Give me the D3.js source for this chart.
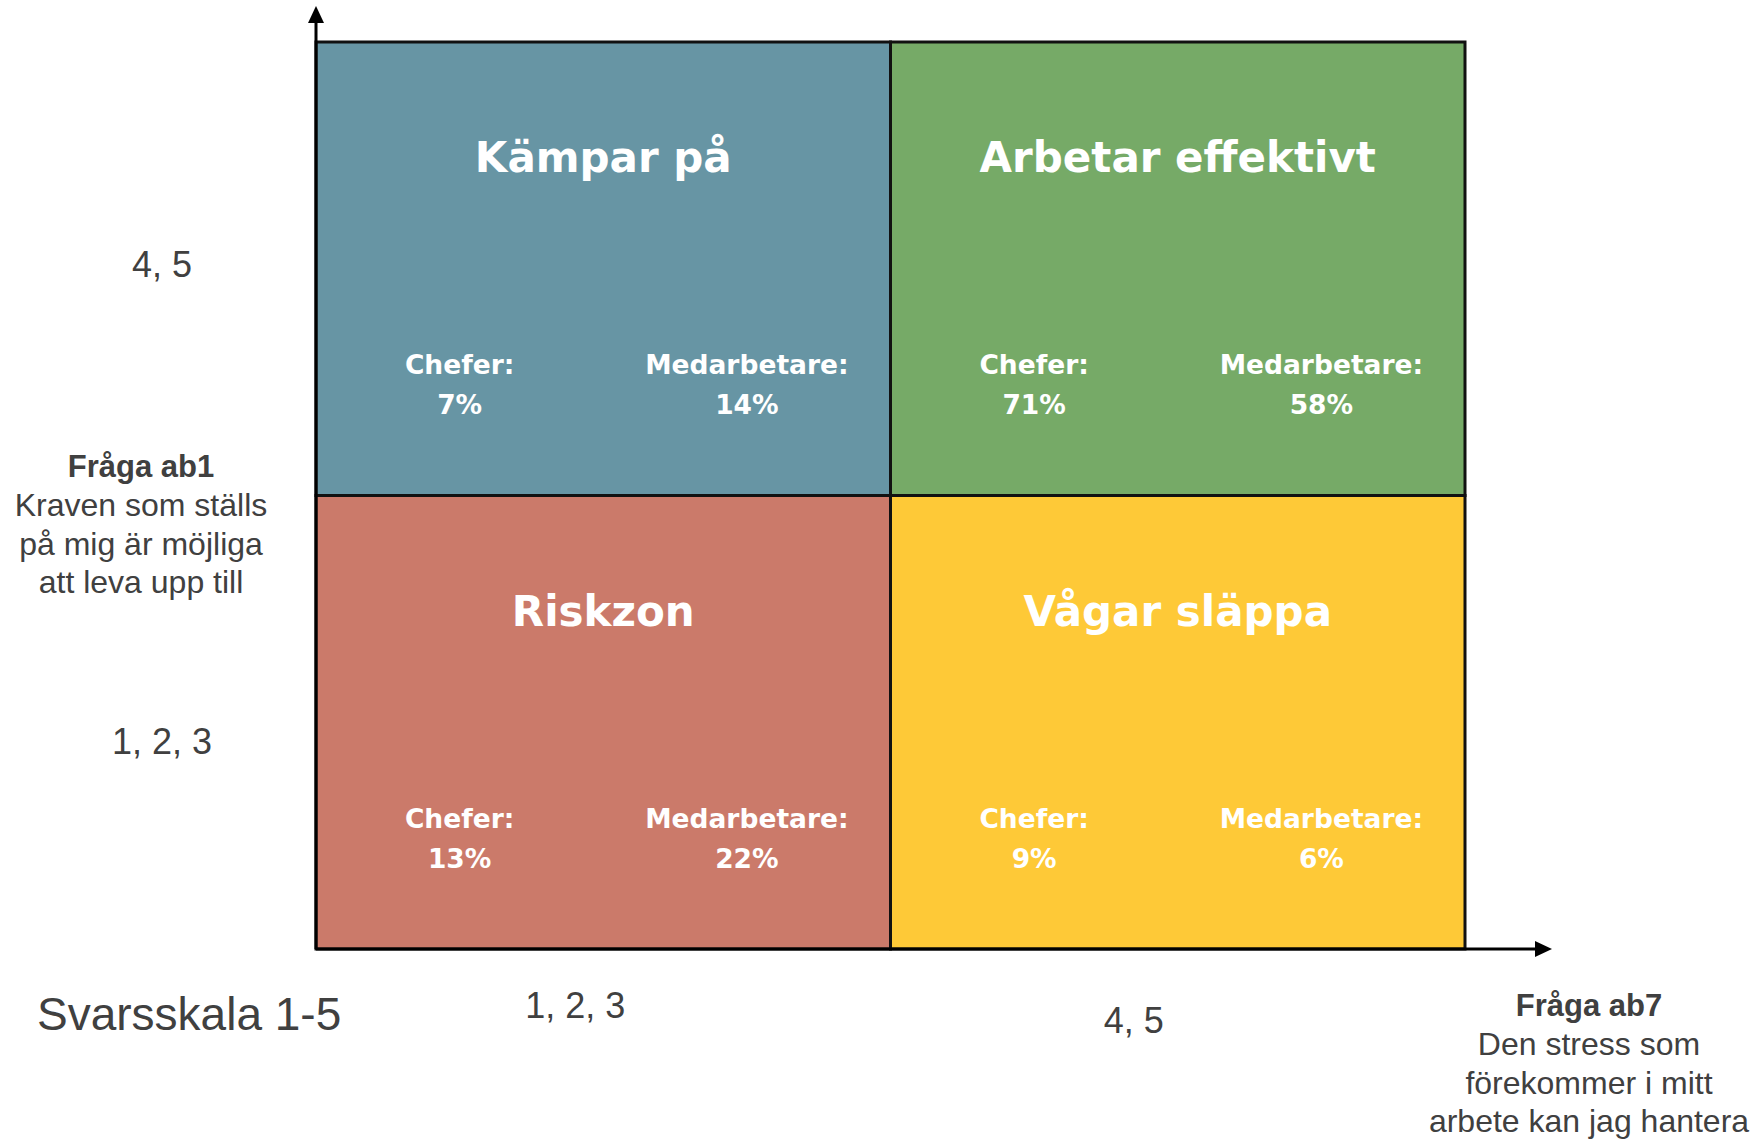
<!DOCTYPE html>
<html>
<head>
<meta charset="utf-8">
<script src="https://cdn.jsdelivr.net/npm/d3@7"></script>
<style>
  html, body { margin: 0; padding: 0; background: #fff; }
  svg { display: block; }
</style>
</head>
<body>
<div id="chart"></div>
<script>
// Axis categories (answer scale groups)
const xCategories = ['1, 2, 3', '4, 5'];
const yCategories = ['4, 5', '1, 2, 3'];

// Quadrants
const quadrantNames = ['Kämpar på', 'Arbetar effektivt', 'Riskzon', 'Vågar släppa'];
const quadrantX = ['1, 2, 3', '4, 5', '1, 2, 3', '4, 5'];
const quadrantY = ['4, 5', '4, 5', '1, 2, 3', '1, 2, 3'];
const cheferPct = [7, 71, 13, 9];
const medarbetarePct = [14, 58, 22, 6];
const quadrantColors = ['#6795a4', '#76aa67', '#cb7a6a', '#fec937'];

// Axis titles
const yTitle = ['Fråga ab1', 'Kraven som ställs', 'på mig är möjliga', 'att leva upp till'];
const xTitle = ['Fråga ab7', 'Den stress som', 'förekommer i mitt', 'arbete kan jag hantera'];
const scaleNote = 'Svarsskala 1-5';

const width = 1761, height = 1139;
const box = { left: 316, top: 42, right: 1465, bottom: 949 };
const textGrey = '#404040';
const titleFont = '"DejaVu Sans", Verdana, sans-serif';
const plainFont = '"Liberation Sans", Arial, sans-serif';

const svg = d3.select('#chart').append('svg')
  .attr('width', width)
  .attr('height', height);

const x = d3.scaleBand().domain(xCategories).range([box.left, box.right]);
const y = d3.scaleBand().domain(yCategories).range([box.top, box.bottom]);

const quads = quadrantNames.map((name, i) => ({
  name,
  x: quadrantX[i],
  y: quadrantY[i],
  chefer: cheferPct[i],
  medarbetare: medarbetarePct[i],
  color: quadrantColors[i]
}));

// Quadrant cells
const cell = svg.append('g').attr('class', 'cells')
  .selectAll('g')
  .data(quads)
  .join('g')
  .attr('transform', d => `translate(${x(d.x)},${y(d.y)})`);

cell.append('rect')
  .attr('width', x.bandwidth())
  .attr('height', y.bandwidth())
  .attr('fill', d => d.color)
  .attr('stroke', '#111')
  .attr('stroke-width', 3);

cell.append('text')
  .attr('x', x.bandwidth() / 2)
  .attr('y', 130)
  .attr('text-anchor', 'middle')
  .attr('fill', '#fff')
  .style('font-family', titleFont)
  .style('font-weight', 700)
  .style('font-size', '42px')
  .text(d => d.name);

const groups = [
  { label: 'Chefer:', key: 'chefer', pos: 0.25 },
  { label: 'Medarbetare:', key: 'medarbetare', pos: 0.75 }
];

groups.forEach(g => {
  const t = cell.append('text')
    .attr('text-anchor', 'middle')
    .attr('fill', '#fff')
    .style('font-family', titleFont)
    .style('font-weight', 700)
    .style('font-size', '26.5px');
  t.append('tspan')
    .attr('x', x.bandwidth() * g.pos)
    .attr('y', 332)
    .text(g.label);
  t.append('tspan')
    .attr('x', x.bandwidth() * g.pos)
    .attr('y', 372)
    .text(d => d[g.key] + '%');
});

// Axes with arrow heads
const axes = svg.append('g').attr('class', 'axes');
axes.append('line')
  .attr('x1', box.left).attr('y1', box.bottom)
  .attr('x2', box.left).attr('y2', 20)
  .attr('stroke', '#000').attr('stroke-width', 3);
axes.append('path')
  .attr('d', `M${box.left},6 L${box.left - 8},23 L${box.left + 8},23 Z`)
  .attr('fill', '#000');
axes.append('line')
  .attr('x1', box.left).attr('y1', box.bottom)
  .attr('x2', 1538).attr('y2', box.bottom)
  .attr('stroke', '#000').attr('stroke-width', 3);
axes.append('path')
  .attr('d', `M1552,${box.bottom} L1535,${box.bottom - 8} L1535,${box.bottom + 8} Z`)
  .attr('fill', '#000');

// Tick labels
const xTickNudge = [{ dx: -28, dy: 1018 }, { dx: -44, dy: 1033 }];
svg.append('g').selectAll('text')
  .data(xCategories)
  .join('text')
  .attr('x', (d, i) => x(d) + x.bandwidth() / 2 + xTickNudge[i].dx)
  .attr('y', (d, i) => xTickNudge[i].dy)
  .attr('text-anchor', 'middle')
  .attr('fill', textGrey)
  .style('font-family', plainFont)
  .style('font-size', '36px')
  .text(d => d);

const yTickNudge = [-4, 20];
svg.append('g').selectAll('text')
  .data(yCategories)
  .join('text')
  .attr('x', 162)
  .attr('y', (d, i) => y(d) + y.bandwidth() / 2 + yTickNudge[i] + 12)
  .attr('text-anchor', 'middle')
  .attr('fill', textGrey)
  .style('font-family', plainFont)
  .style('font-size', '36px')
  .text(d => d);

// Axis titles
function block(lines, cx, y0) {
  const t = svg.append('text')
    .attr('text-anchor', 'middle')
    .attr('fill', textGrey)
    .style('font-family', plainFont)
    .style('font-size', '32px');
  lines.forEach((line, i) => {
    t.append('tspan')
      .attr('x', cx)
      .attr('y', y0 + i * 38.8)
      .style('font-weight', i === 0 ? 700 : 400)
      .style('font-size', i === 0 ? '31px' : '32px')
      .text(line);
  });
}
block(yTitle, 141, 477);
block(xTitle, 1589, 1016);

svg.append('text')
  .attr('x', 37)
  .attr('y', 1030)
  .attr('fill', textGrey)
  .style('font-family', plainFont)
  .style('font-size', '46px')
  .text(scaleNote);
</script>
</body>
</html>
